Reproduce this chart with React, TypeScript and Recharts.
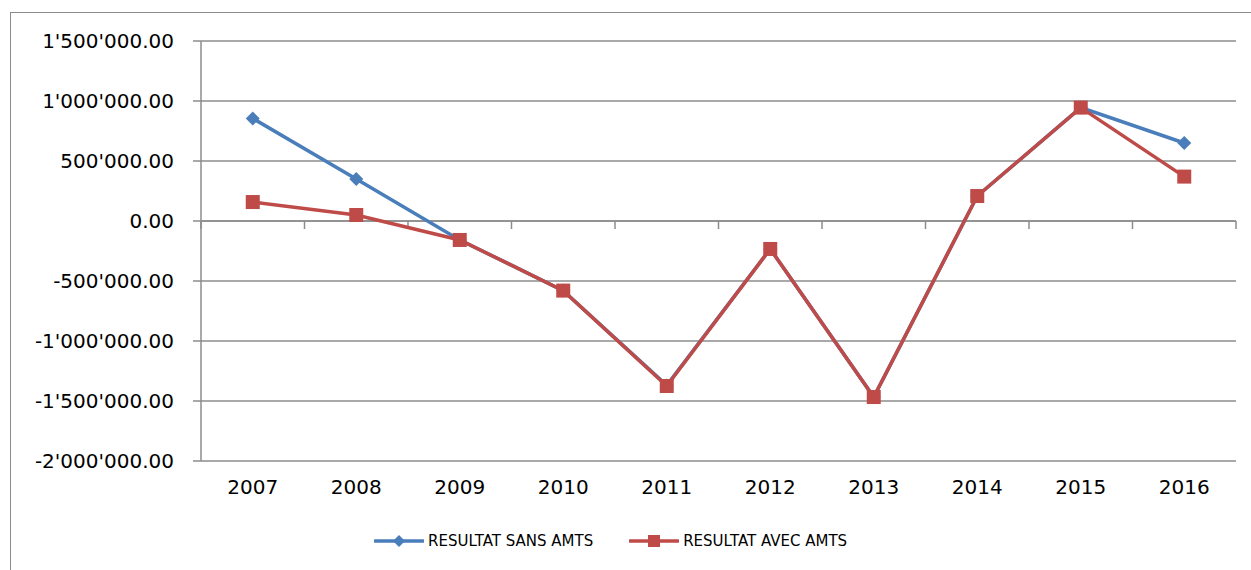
import React from 'react';
import { LineChart, Line, XAxis, YAxis, CartesianGrid, Legend, ReferenceLine } from 'recharts';

const YEARS = [2007, 2008, 2009, 2010, 2011, 2012, 2013, 2014, 2015, 2016];
const SANS_AMTS = [855000, 350000, -158000, -580000, -1370000, -233000, -1467000, 208000, 945000, 650000];
const AVEC_AMTS = [158000, 50000, -158000, -580000, -1375000, -233000, -1467000, 208000, 945000, 370000];
const Y_TICKS = [-2000000, -1500000, -1000000, -500000, 0, 500000, 1000000, 1500000];
const SANS_NAME = 'RESULTAT SANS AMTS';
const AVEC_NAME = 'RESULTAT AVEC AMTS';

const BLUE = '#4A7EBB';
const RED = '#BE4B48';
const GRID = '#8c8c8c';
const FONT = '"DejaVu Sans", sans-serif';

const data = YEARS.map((year, i) => ({ year, sans: SANS_AMTS[i], avec: AVEC_AMTS[i] }));

// category boundaries for the small tick marks on the zero line
const BOUNDS = [...YEARS.map((y) => y - 0.5), YEARS[YEARS.length - 1] + 0.5];
const TICK_DEPTH = 500000 * 8 / 60;

// 1'500'000.00 style
const formatSwiss = (v: number) => {
  const [int, dec] = Math.abs(v).toFixed(2).split('.');
  const grouped = int.replace(/\B(?=(\d{3})+(?!\d))/g, "'");
  return `${v < 0 ? '-' : ''}${grouped}.${dec}`;
};

const Diamond = ({ cx, cy }: any) => {
  if (cx == null || cy == null) return null;
  const r = 7;
  return <polygon points={`${cx},${cy - r} ${cx + r},${cy} ${cx},${cy + r} ${cx - r},${cy}`} fill={BLUE} />;
};

const Square = ({ cx, cy }: any) => {
  if (cx == null || cy == null) return null;
  const s = 14;
  return <rect x={cx - s / 2} y={cy - s / 2} width={s} height={s} fill={RED} />;
};

const LegendItem = ({ color, name, marker }: { color: string; name: string; marker: 'diamond' | 'square' }) => (
  <div style={{ display: 'flex', alignItems: 'center', marginRight: 36 }}>
    <svg width={50} height={16} style={{ marginRight: 4 }}>
      <line x1={1} y1={8} x2={49} y2={8} stroke={color} strokeWidth={3.5} strokeLinecap="round" />
      {marker === 'diamond' ? (
        <polygon points="25,2 31,8 25,14 19,8" fill={color} />
      ) : (
        <rect x={19} y={2} width={12} height={12} fill={color} />
      )}
    </svg>
    <span style={{ fontFamily: FONT, fontSize: 15, color: '#000' }}>{name}</span>
  </div>
);

const renderLegend = () => (
  <div style={{ display: 'flex', alignItems: 'center', height: 30, paddingLeft: 374 }}>
    <LegendItem color={BLUE} name={SANS_NAME} marker="diamond" />
    <LegendItem color={RED} name={AVEC_NAME} marker="square" />
  </div>
);

export default function App() {
  return (
    <div style={{ position: 'absolute', left: 0, top: 0, width: 1251, height: 570, overflow: 'hidden', background: '#fff' }}>
      <div
        style={{
          position: 'absolute',
          left: 10,
          top: 12,
          width: 1260,
          height: 580,
          border: `1px solid ${GRID}`,
        }}
      />
      <div style={{ position: 'absolute', left: 0, top: 0 }}>
        <LineChart width={1251} height={570} data={data} margin={{ top: 41, right: 15, left: 0, bottom: 14 }}>
          <CartesianGrid vertical={false} stroke={GRID} strokeWidth={1.5} />
          <XAxis
            type="number"
            dataKey="year"
            domain={[2006.5, 2016.5]}
            ticks={YEARS}
            interval={0}
            axisLine={false}
            tickLine={false}
            tickSize={0}
            tickMargin={19}
            height={65}
            tick={{ fill: '#000', fontSize: 20, fontFamily: FONT }}
          />
          <YAxis
            type="number"
            domain={[-2000000, 1500000]}
            ticks={Y_TICKS}
            interval={0}
            width={201}
            axisLine={{ stroke: GRID, strokeWidth: 1.5 }}
            tickLine={{ stroke: GRID, strokeWidth: 1.5 }}
            tickSize={8}
            tickMargin={19}
            tickFormatter={formatSwiss}
            tick={{ fill: '#000', fontSize: 20, fontFamily: FONT }}
          />
          <ReferenceLine y={0} stroke={GRID} strokeWidth={1.5} />
          {BOUNDS.map((b) => (
            <ReferenceLine
              key={b}
              segment={[{ x: b, y: 0 }, { x: b, y: -TICK_DEPTH }]}
              stroke={GRID}
              strokeWidth={1.5}
            />
          ))}
          <Legend verticalAlign="bottom" content={renderLegend} wrapperStyle={{ left: 0, width: 1251 }} />
          <Line
            type="linear"
            dataKey="sans"
            name={SANS_NAME}
            stroke={BLUE}
            strokeWidth={3.5}
            dot={<Diamond />}
            activeDot={false}
            isAnimationActive={false}
          />
          <Line
            type="linear"
            dataKey="avec"
            name={AVEC_NAME}
            stroke={RED}
            strokeWidth={3.5}
            dot={<Square />}
            activeDot={false}
            isAnimationActive={false}
          />
        </LineChart>
      </div>
    </div>
  );
}
